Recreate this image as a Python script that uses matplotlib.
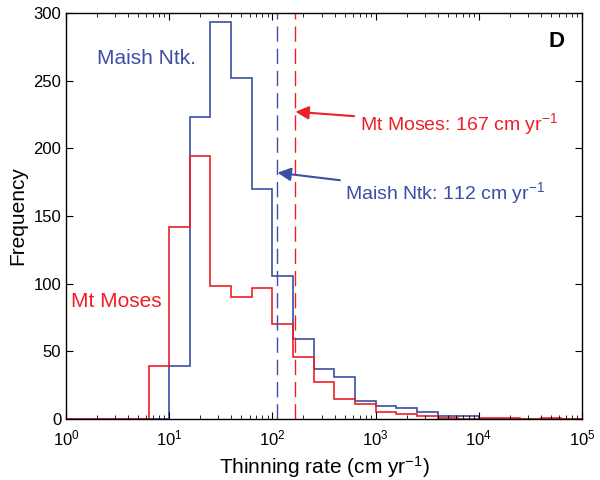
import numpy as np
from matplotlib import pyplot as plt

# log10 bin edges, 0.2 decade wide, 10^0 .. 10^5
bin_exp = np.linspace(0, 5, 26)
bin_edges = 10 ** bin_exp

maish_counts = [0, 0, 0, 0, 0, 39, 223, 293, 252, 170, 106, 59, 37, 31, 13,
                10, 8, 5, 2, 2, 0, 0, 0, 0, 0]
moses_counts = [0, 0, 0, 0, 39, 142, 194, 98, 90, 97, 70, 46, 27, 15, 11,
                5, 4, 2, 1, 0, 1, 1, 0, 1, 0]

maish_median = 112
moses_median = 167

blue = '#3a4fa6'
red = '#ee1f26'

plt.rcParams['font.family'] = ['Liberation Sans', 'DejaVu Sans']
plt.rcParams['mathtext.fontset'] = 'custom'
plt.rcParams['mathtext.rm'] = 'Liberation Sans'
plt.rcParams['mathtext.it'] = 'Liberation Sans'
plt.rcParams['mathtext.default'] = 'rm'

fig = plt.figure(figsize=(6, 4.8), dpi=100)
ax = fig.add_axes([0.11, 0.127, 0.86, 0.846])

ax.stairs(maish_counts, bin_edges, color=blue, lw=1.2)
ax.stairs(moses_counts, bin_edges, color=red, lw=1.2)

ax.axvline(maish_median, color=blue, lw=1, dashes=(11, 5))
ax.axvline(moses_median, color=red, lw=1, dashes=(11, 5))

ax.set_xscale('log')
ax.set_xlim(1, 1e5)
ax.set_ylim(0, 300)
ax.set_yticks(range(0, 301, 50))

ax.tick_params(which='both', direction='in', top=True, right=True, labelsize=12)
ax.tick_params(which='major', length=5)
ax.tick_params(which='minor', length=3)
ax.tick_params(axis='x', pad=7)
for s in ax.spines.values():
    s.set_linewidth(1)

ax.set_xlabel('Thinning rate (cm yr$^{-1}$)', fontsize=15)
ax.set_ylabel('Frequency', fontsize=15)

ax.text(2.0, 266, 'Maish Ntk.', color=blue, fontsize=15, va='center')
ax.text(1.13, 87, 'Mt Moses', color=red, fontsize=15, va='center')
ax.text(0.95, 0.93, 'D', transform=ax.transAxes, fontsize=16,
        fontweight='bold', ha='center', va='center')

ax.annotate('Mt Moses: 167 cm yr$^{-1}$', xy=(moses_median, 227),
            xytext=(700, 218), color=red, fontsize=14, va='center', ha='left',
            arrowprops=dict(arrowstyle='-|>', color=red, lw=1.5,
                            mutation_scale=20, shrinkA=2, shrinkB=0))
ax.annotate('Maish Ntk: 112 cm yr$^{-1}$', xy=(maish_median, 182),
            xytext=(510, 167), color=blue, fontsize=14, va='center', ha='left',
            arrowprops=dict(arrowstyle='-|>', color=blue, lw=1.5,
                            mutation_scale=20, shrinkA=2, shrinkB=0))

plt.savefig('out.png')
